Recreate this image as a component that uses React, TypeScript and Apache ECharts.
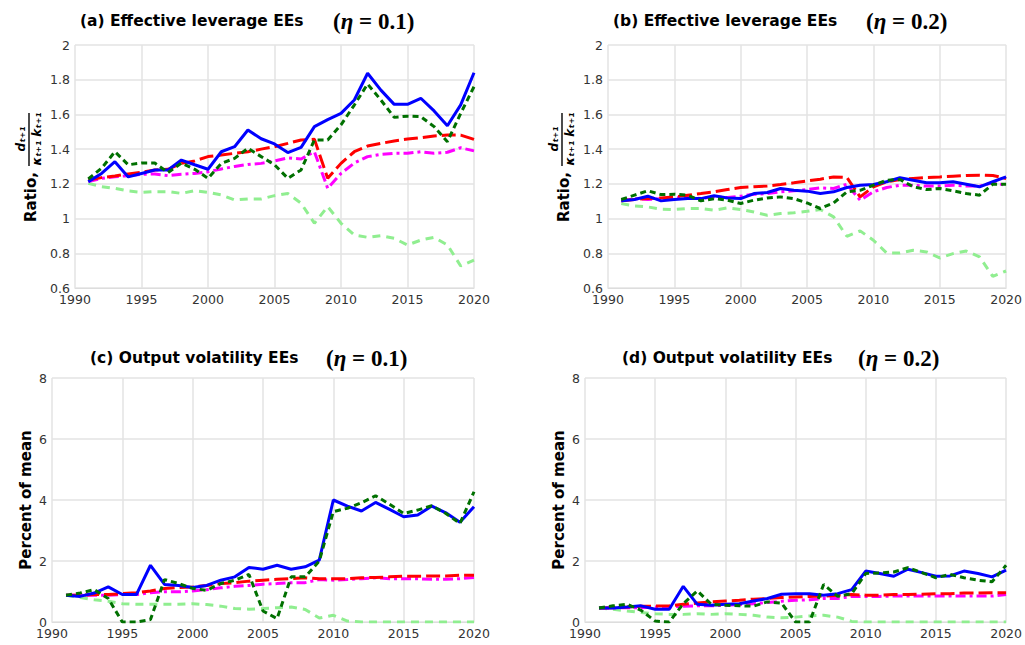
import React, { useEffect, useRef } from "react";
import * as echarts from "echarts";

const years = [1991,1992,1993,1994,1995,1996,1997,1998,1999,2000,2001,2002,2003,2004,2005,2006,2007,2008,2009,2010,2011,2012,2013,2014,2015,2016,2017,2018,2019,2020];

const xTicks = { min: 1990, max: 2020, interval: 5 };
const levTicks = { min: 0.6, max: 2, interval: 0.2 };
const volTicks = { min: 0, max: 8, interval: 2 };

const titles = [
  { label: "(a) Effective leverage EEs", eta: "0.1" },
  { label: "(b) Effective leverage EEs", eta: "0.2" },
  { label: "(c) Output volatility EEs", eta: "0.1" },
  { label: "(d) Output volatility EEs", eta: "0.2" },
];

// Panel (a) effective leverage, eta = 0.1
const aBlue = [1.213,1.26,1.328,1.24,1.26,1.28,1.28,1.337,1.31,1.284,1.385,1.414,1.51,1.46,1.43,1.38,1.41,1.53,1.57,1.606,1.683,1.837,1.74,1.658,1.658,1.693,1.62,1.535,1.655,1.84];
const aGreen = [1.228,1.29,1.385,1.31,1.32,1.32,1.265,1.32,1.284,1.232,1.318,1.347,1.405,1.357,1.31,1.232,1.28,1.453,1.453,1.54,1.654,1.775,1.683,1.583,1.59,1.587,1.53,1.443,1.606,1.76];
const aRed = [1.222,1.236,1.245,1.257,1.266,1.28,1.284,1.318,1.332,1.357,1.366,1.376,1.385,1.4,1.414,1.433,1.453,1.457,1.232,1.318,1.385,1.418,1.433,1.447,1.458,1.466,1.476,1.481,1.481,1.456];
const aMagenta = [1.213,1.232,1.241,1.247,1.255,1.257,1.247,1.255,1.26,1.27,1.286,1.3,1.312,1.318,1.332,1.35,1.343,1.385,1.174,1.26,1.32,1.357,1.37,1.376,1.376,1.385,1.376,1.382,1.408,1.39];
const aLight = [1.203,1.184,1.174,1.159,1.151,1.155,1.155,1.145,1.161,1.151,1.136,1.107,1.113,1.113,1.132,1.145,1.088,0.973,1.069,0.973,0.905,0.892,0.901,0.886,0.848,0.876,0.892,0.848,0.727,0.761];

// Panel (b) effective leverage, eta = 0.2
const bBlue = [1.102,1.11,1.129,1.102,1.11,1.115,1.115,1.131,1.119,1.115,1.144,1.15,1.173,1.163,1.158,1.144,1.154,1.179,1.192,1.196,1.212,1.235,1.221,1.206,1.206,1.212,1.198,1.183,1.212,1.24];
const bGreen = [1.11,1.135,1.16,1.138,1.14,1.135,1.102,1.115,1.106,1.087,1.106,1.119,1.125,1.115,1.09,1.058,1.09,1.154,1.163,1.192,1.221,1.225,1.183,1.167,1.173,1.16,1.144,1.135,1.198,1.198];
const bRed = [1.102,1.11,1.115,1.119,1.125,1.135,1.144,1.154,1.167,1.179,1.183,1.188,1.196,1.206,1.217,1.227,1.24,1.237,1.125,1.183,1.212,1.225,1.231,1.237,1.24,1.244,1.248,1.25,1.248,1.231];
const bMagenta = [1.102,1.115,1.11,1.115,1.119,1.125,1.115,1.125,1.121,1.129,1.14,1.144,1.154,1.16,1.167,1.177,1.173,1.198,1.106,1.154,1.179,1.192,1.192,1.187,1.187,1.192,1.187,1.187,1.206,1.192];
const bLight = [1.087,1.073,1.067,1.054,1.052,1.058,1.058,1.048,1.062,1.052,1.038,1.019,1.029,1.033,1.042,1.052,1.01,0.898,0.929,0.875,0.802,0.802,0.817,0.808,0.773,0.798,0.813,0.779,0.667,0.698];

// Panel (c) output volatility, eta = 0.1
const cBlue = [0.877,0.84,0.95,1.15,0.9,0.9,1.86,1.23,1.2,1.13,1.2,1.37,1.48,1.79,1.73,1.86,1.73,1.81,2.03,4.0,3.8,3.64,3.92,3.69,3.45,3.51,3.8,3.58,3.27,3.78];
const cGreen = [0.877,0.95,1.06,0.77,0,0,0.08,1.39,1.26,1.1,1.04,1.26,1.37,1.56,0.36,0.11,1.48,1.48,2.0,3.62,3.73,3.91,4.14,3.86,3.56,3.67,3.81,3.56,3.23,4.27];
const cRed = [0.877,0.877,0.9,0.9,0.93,0.96,1.02,1.1,1.13,1.15,1.2,1.26,1.29,1.34,1.37,1.4,1.42,1.45,1.42,1.42,1.42,1.45,1.46,1.48,1.5,1.5,1.51,1.51,1.53,1.53];
const cMagenta = [0.877,0.877,0.877,0.877,0.9,0.9,0.96,0.99,0.99,1.02,1.06,1.12,1.17,1.2,1.24,1.26,1.29,1.29,1.39,1.37,1.39,1.42,1.45,1.42,1.42,1.42,1.4,1.4,1.42,1.46];
const cLight = [0.877,0.8,0.73,0.68,0.6,0.58,0.58,0.58,0.58,0.6,0.57,0.52,0.44,0.42,0.44,0.47,0.49,0.41,0.13,0.22,0.03,0,0,0,0,0,0,0,0,0];

// Panel (d) output volatility, eta = 0.2
const dBlue = [0.46,0.46,0.49,0.53,0.42,0.42,1.17,0.58,0.55,0.58,0.6,0.69,0.77,0.91,0.93,0.93,0.88,0.93,1.06,1.67,1.59,1.5,1.73,1.62,1.5,1.51,1.67,1.59,1.48,1.7];
const dGreen = [0.46,0.53,0.58,0.38,0.03,0,0.6,1.02,0.58,0.55,0.53,0.52,0.66,0.62,0,0,1.23,0.84,0.93,1.59,1.61,1.64,1.78,1.62,1.45,1.56,1.45,1.37,1.32,1.86];
const dRed = [0.46,0.47,0.49,0.52,0.52,0.53,0.58,0.62,0.66,0.69,0.71,0.75,0.77,0.8,0.82,0.84,0.85,0.88,0.9,0.88,0.88,0.9,0.9,0.91,0.93,0.93,0.95,0.95,0.96,0.96];
const dMagenta = [0.46,0.46,0.47,0.47,0.49,0.49,0.52,0.53,0.53,0.55,0.57,0.6,0.64,0.68,0.71,0.73,0.77,0.77,0.84,0.84,0.84,0.85,0.85,0.85,0.85,0.85,0.85,0.85,0.85,0.9];
const dLight = [0.46,0.42,0.36,0.31,0.27,0.25,0.25,0.27,0.25,0.27,0.25,0.22,0.16,0.14,0.16,0.2,0.22,0.16,0.02,0,0,0,0,0,0,0,0,0,0,0];

const panels = [
  { light: aLight, magenta: aMagenta, red: aRed, blue: aBlue, green: aGreen },
  { light: bLight, magenta: bMagenta, red: bRed, blue: bBlue, green: bGreen },
  { light: cLight, magenta: cMagenta, red: cRed, blue: cBlue, green: cGreen },
  { light: dLight, magenta: dMagenta, red: dRed, blue: dBlue, green: dGreen },
];

const styles: Record<string, any> = {
  light: { color: "#90ee90", type: [8, 6] },
  magenta: { color: "#ff00ff", type: [10, 4, 3, 4] },
  red: { color: "#ff0000", type: [14, 5] },
  blue: { color: "#0000ff", type: "solid" },
  green: { color: "#007000", type: [6, 4] },
};

const grids = [
  { left: 75, top: 45, width: 399, height: 243 },
  { left: 608, top: 45, width: 399, height: 243 },
  { left: 52, top: 378, width: 422, height: 244 },
  { left: 585, top: 378, width: 422, height: 244 },
];

const titlePos = [
  { x: 80, y: 21, mx: 333 },
  { x: 613, y: 21, mx: 866 },
  { x: 90, y: 358, mx: 326 },
  { x: 622, y: 358, mx: 858 },
];

const FONT = "DejaVu Sans";

function ratioLabel(x: number, y: number) {
  return {
    type: "group",
    x,
    y,
    rotation: Math.PI / 2,
    children: [
      { type: "text", x: -6, y: 1, style: { text: "Ratio,", font: `bold 15px '${FONT}'`, fill: "#000", align: "right", verticalAlign: "middle" } },
      { type: "line", shape: { x1: 0, y1: -1, x2: 53, y2: -1 }, style: { stroke: "#000", lineWidth: 1.4 } },
      { type: "text", x: 27, y: -3, style: { text: "dₜ₊₁", font: `bold italic 12px '${FONT}'`, fill: "#000", align: "center", verticalAlign: "bottom" } },
      { type: "text", x: 27, y: 1, style: { text: "κₜ₊₁ kₜ₊₁", font: `bold italic 12px '${FONT}'`, fill: "#000", align: "center", verticalAlign: "top" } },
    ],
  };
}

export default function App() {
  const ref = useRef<HTMLDivElement>(null);
  useEffect(() => {
    if (!ref.current) return;
    const chart = echarts.init(ref.current, null, { renderer: "svg" });
    const xAxis = grids.map((_, i) => ({
      type: "value",
      gridIndex: i,
      ...xTicks,
      axisLine: { show: true, lineStyle: { color: "#dddddd" } },
      axisTick: { show: false },
      splitLine: { show: true, lineStyle: { color: "#e3e3e3", width: 1.5 } },
      axisLabel: { color: "#333", fontFamily: FONT, fontSize: 12.5, margin: 5, formatter: (v: number) => String(v) },
    }));
    const yAxis = grids.map((_, i) => ({
      type: "value",
      gridIndex: i,
      ...(i < 2 ? levTicks : volTicks),
      name: i < 2 ? "" : "Percent of mean",
      nameLocation: "middle",
      nameGap: 19,
      nameTextStyle: { fontFamily: FONT, fontWeight: "bold", fontSize: 15, color: "#000" },
      axisLine: { show: false },
      axisTick: { show: false },
      splitLine: { show: true, lineStyle: { color: "#e3e3e3", width: 1.5 } },
      axisLabel: { color: "#333", fontFamily: FONT, fontSize: 12.5, margin: 5 },
    }));
    const series: any[] = [];
    panels.forEach((p: any, i) => {
      ["light", "magenta", "red", "blue", "green"].forEach((k) => {
        series.push({
          type: "line",
          name: k,
          xAxisIndex: i,
          yAxisIndex: i,
          data: years.map((yr, j) => [yr, p[k][j]]),
          showSymbol: false,
          lineStyle: { width: 3, color: styles[k].color, type: styles[k].type },
          z: 3,
        });
      });
    });
    const graphic: any[] = [];
    titles.forEach((t, i) => {
      const pos = titlePos[i];
      graphic.push({
        type: "text",
        x: pos.x,
        y: pos.y,
        style: { text: t.label, font: `bold 15.5px '${FONT}'`, fill: "#000", verticalAlign: "middle" },
      });
      graphic.push({
        type: "text",
        x: pos.mx,
        y: pos.y,
        style: {
          text: `{p|(}{e|η}{p| = ${t.eta})}`,
          verticalAlign: "middle",
          rich: {
            p: { fontFamily: "Liberation Serif", fontSize: 23, fill: "#000", fontWeight: "bold" },
            e: { fontFamily: "Liberation Serif", fontSize: 23, fill: "#000", fontStyle: "italic", fontWeight: "bold" },
          },
        },
      });
    });
    graphic.push(ratioLabel(30, 166));
    graphic.push(ratioLabel(563, 166));
    chart.setOption({
      animation: false,
      backgroundColor: "#fff",
      grid: grids,
      xAxis,
      yAxis,
      series,
      graphic,
    });
    return () => chart.dispose();
  }, []);
  return <div ref={ref} style={{ position: "fixed", left: 0, top: 0, width: 1025, height: 645 }} />;
}
